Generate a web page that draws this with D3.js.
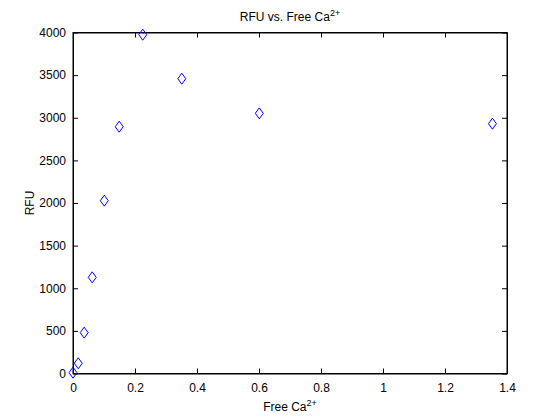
<!DOCTYPE html>
<html>
<head>
<meta charset="utf-8">
<script src="https://cdn.jsdelivr.net/npm/d3@7"></script>
<style>
  body { margin: 0; background: #fff; }
  text { font-family: "Liberation Sans", Arial, sans-serif; fill: #000; }
</style>
</head>
<body>
<svg id="place" width="560" height="420"></svg>
<script>
var freeCa = [0, 0.017, 0.036, 0.062, 0.101, 0.149, 0.225, 0.351, 0.601, 1.353];
var rfu = [10, 120, 479, 1128, 2027, 2895, 3974, 3458, 3052, 2930];
var xTicks = [0, 0.2, 0.4, 0.6, 0.8, 1, 1.2, 1.4];
var yTicks = [0, 500, 1000, 1500, 2000, 2500, 3000, 3500, 4000];

var plotLeft = 73, plotRight = 507, plotTop = 32.5, plotBottom = 373.5;

var xScale = d3.scaleLinear().domain([0, 1.4]).range([plotLeft, plotRight]);
var yScale = d3.scaleLinear().domain([0, 4000]).range([plotBottom, plotTop]);

var svg = d3.select("#place");

// box
svg.append("rect")
    .attr("x", plotLeft).attr("y", plotTop)
    .attr("width", plotRight - plotLeft).attr("height", plotBottom - plotTop)
    .attr("fill", "none").attr("stroke", "#000").attr("stroke-width", 1);

var xAxis = d3.axisBottom(xScale).tickValues(xTicks)
    .tickSizeInner(-5).tickSizeOuter(0).tickPadding(10)
    .tickFormat(d3.format("~g"));
var yAxis = d3.axisLeft(yScale).tickValues(yTicks)
    .tickSizeInner(-5).tickSizeOuter(0).tickPadding(7)
    .tickFormat(d3.format("d"));

var gx = svg.append("g").attr("transform", "translate(0," + plotBottom + ")").call(xAxis);
var gy = svg.append("g").attr("transform", "translate(" + plotLeft + ",0)").call(yAxis);
// top and right ticks
svg.append("g").attr("transform", "translate(0," + plotTop + ")")
    .call(d3.axisTop(xScale).tickValues(xTicks).tickSizeInner(-5).tickSizeOuter(0).tickFormat(""));
svg.append("g").attr("transform", "translate(" + plotRight + ",0)")
    .call(d3.axisRight(yScale).tickValues(yTicks).tickSizeInner(-5).tickSizeOuter(0).tickFormat(""));

svg.selectAll(".domain").attr("stroke", "#000");
svg.selectAll(".tick line").attr("stroke", "#000");
svg.selectAll(".tick text").style("font-size", "12px").attr("fill", "#000");
gx.selectAll(".tick text").attr("dy", "0.71em");

// markers
svg.append("g").selectAll("path").data(freeCa).enter().append("path")
    .attr("d", "M0,-5.5L4,0L0,5.5L-4,0Z")
    .attr("transform", function(d, i) {
        return "translate(" + xScale(d) + "," + yScale(rfu[i]) + ")";
    })
    .attr("fill", "none").attr("stroke", "#0000ff").attr("stroke-width", 1);

// title
var title = svg.append("text")
    .attr("x", (plotLeft + plotRight) / 2).attr("y", 21)
    .attr("text-anchor", "middle").style("font-size", "12px");
title.append("tspan").text("RFU vs. Free Ca");
title.append("tspan").attr("dy", -5).style("font-size", "9px").text("2+");

var xl = svg.append("text")
    .attr("x", (plotLeft + plotRight) / 2).attr("y", 411)
    .attr("text-anchor", "middle").style("font-size", "12px");
xl.append("tspan").text("Free Ca");
xl.append("tspan").attr("dy", -5).style("font-size", "9px").text("2+");

svg.append("text")
    .attr("transform", "translate(34," + ((plotTop + plotBottom) / 2) + ")rotate(-90)")
    .attr("text-anchor", "middle").style("font-size", "12px")
    .text("RFU");
</script>
</body>
</html>
